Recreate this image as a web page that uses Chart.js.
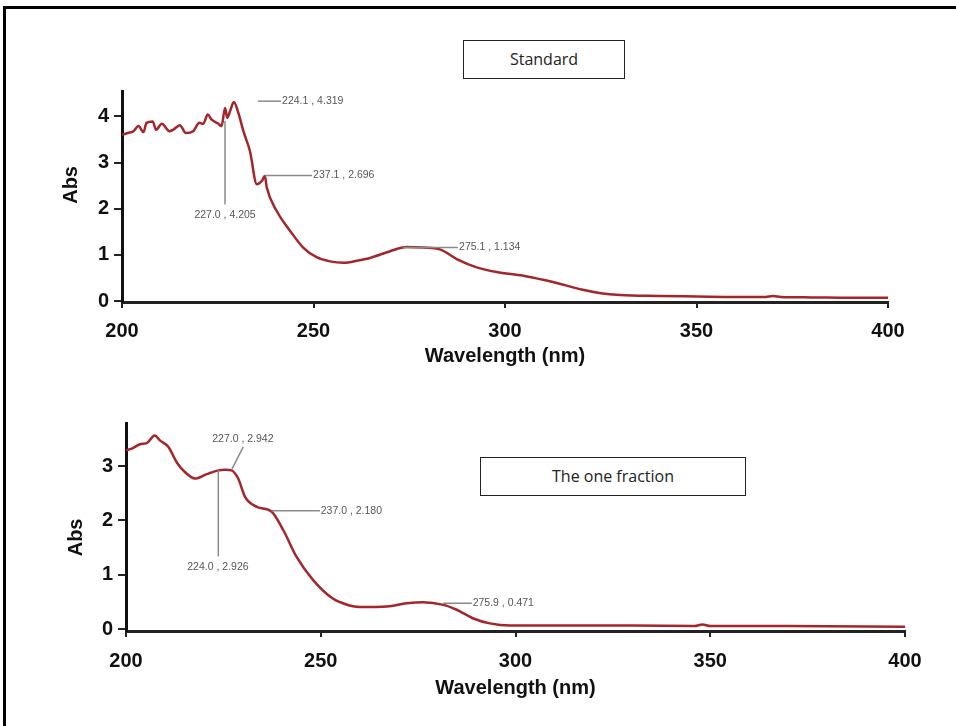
<!DOCTYPE html>
<html>
<head>
<meta charset="utf-8">
<script src="https://cdn.jsdelivr.net/npm/chart.js@4.4.1/dist/chart.umd.min.js"></script>
<style>
  html, body { margin: 0; background: #fff; width: 956px; height: 726px; overflow: hidden; }
  body { position: relative; }
  .frame { position: absolute; left: 3px; top: 6px; width: 960px; height: 730px; border-left: 3px solid #000; border-top: 3px solid #000; box-sizing: border-box; }
  .plot { position: absolute; left: 0; width: 956px; }
  .tag { position: absolute; border: 1.5px solid #222; background: #fff; font-family: "Open Sans", sans-serif; font-size: 16px; color: #222; text-align: center; box-sizing: border-box; z-index: 2; }
</style>
</head>
<body>
<div class="frame"></div>
<div class="plot" style="top:0;height:368px"><canvas id="std-chart"></canvas></div>
<div class="plot" style="top:370px;height:330px"><canvas id="frac-chart"></canvas></div>
<div class="tag" style="left:463px;top:40px;width:162px;height:39px;line-height:36px">Standard</div>
<div class="tag" style="left:480px;top:457px;width:266px;height:39px;line-height:36px">The one fraction</div>

<script>
// axis ticks
const wlTicks = [200, 250, 300, 350, 400];
const stdAbsTicks = [0, 1, 2, 3, 4];
const fracAbsTicks = [0, 1, 2, 3];

// standard spectrum
const stdWl = [200, 201.5, 203, 204.3, 205.6, 206.4, 208, 208.9, 210.4, 212.4, 213.5, 215.1, 216.7, 218.6, 220.2, 221.2, 222.4, 223.4, 225, 226, 226.9, 227.5, 228.2, 229.2, 230.4, 231.7, 233.4, 235.2, 236.5, 237.3, 237.8, 240.4, 243.9, 247.3, 250.8, 254.3, 257.8, 261.7, 265, 270, 274.3, 278.7, 283, 287.4, 292.6, 297.8, 304.8, 310, 315, 320, 325, 330, 340, 350, 360, 368, 370, 372, 380, 390, 400];
const stdAbs = [3.60, 3.64, 3.68, 3.79, 3.66, 3.86, 3.89, 3.71, 3.84, 3.68, 3.72, 3.81, 3.64, 3.68, 3.86, 3.84, 4.04, 3.93, 3.85, 3.79, 4.18, 3.97, 4.11, 4.31, 4.07, 3.68, 3.25, 2.53, 2.60, 2.71, 2.46, 1.95, 1.52, 1.16, 0.95, 0.86, 0.83, 0.88, 0.94, 1.08, 1.17, 1.16, 1.12, 0.91, 0.73, 0.63, 0.55, 0.46, 0.36, 0.25, 0.17, 0.13, 0.11, 0.10, 0.09, 0.09, 0.11, 0.09, 0.08, 0.07, 0.07];

// fraction spectrum
const fracWl = [200, 201.5, 203.6, 205.3, 207.4, 208.7, 210.9, 213, 215.1, 217.7, 220.7, 223.7, 225.5, 227.1, 228.8, 230.6, 233.6, 237.4, 240.4, 243.8, 248, 253, 256, 260, 267, 272.1, 276.3, 281.5, 284.9, 289.2, 293.4, 298.6, 310, 330, 346, 348, 350, 370, 400];
const fracAbs = [3.29, 3.32, 3.40, 3.42, 3.56, 3.47, 3.35, 3.07, 2.89, 2.77, 2.85, 2.92, 2.93, 2.92, 2.77, 2.43, 2.25, 2.16, 1.82, 1.33, 0.91, 0.57, 0.47, 0.41, 0.42, 0.48, 0.50, 0.45, 0.36, 0.20, 0.11, 0.07, 0.07, 0.07, 0.06, 0.09, 0.06, 0.06, 0.05];

// peak labels: text, leader line start/end (wl, abs), text anchor (wl, abs), text align
const stdPeakText = ['224.1 , 4.319', '227.0 , 4.205', '237.1 , 2.696', '275.1 , 1.134'];
const stdPeakLine = [[235.5, 4.33, 241.5, 4.33], [226.9, 3.90, 226.9, 2.09], [237.3, 2.72, 249.6, 2.72], [273.4, 1.16, 287.7, 1.16]];
const stdPeakPos = [[241.8, 4.33, 'left'], [226.9, 1.87, 'center'], [249.9, 2.72, 'left'], [288.0, 1.16, 'left']];

const fracPeakText = ['227.0 , 2.942', '224.0 , 2.926', '237.0 , 2.180', '275.9 , 0.471'];
const fracPeakLine = [[227.1, 2.93, 230.1, 3.35], [223.7, 2.93, 223.7, 1.34], [237.4, 2.18, 249.8, 2.18], [281.4, 0.48, 288.8, 0.48]];
const fracPeakPos = [[230.0, 3.50, 'center'], [223.6, 1.15, 'center'], [250.0, 2.18, 'left'], [289.0, 0.48, 'left']];

const axisFont = { family: '"Liberation Sans", Arial, sans-serif', size: 20, weight: 'bold' };

// draws the peak call-outs and the rotated "Abs" axis title
const peakLabels = {
    id: 'peakLabels',
    afterDatasetsDraw(chart, args, opts) {
        const ctx = chart.ctx;
        const xs = chart.scales.x;
        const ys = chart.scales.y;
        ctx.save();
        ctx.strokeStyle = '#8a8a8a';
        ctx.lineWidth = 1.5;
        ctx.fillStyle = '#555';
        ctx.font = '10.5px "Liberation Sans", Arial, sans-serif';
        ctx.textBaseline = 'middle';
        opts.text.forEach((t, i) => {
            const l = opts.lines[i];
            ctx.beginPath();
            ctx.moveTo(xs.getPixelForValue(l[0]), ys.getPixelForValue(l[1]));
            ctx.lineTo(xs.getPixelForValue(l[2]), ys.getPixelForValue(l[3]));
            ctx.stroke();
            const p = opts.pos[i];
            ctx.textAlign = p[2];
            ctx.fillText(t, xs.getPixelForValue(p[0]), ys.getPixelForValue(p[1]));
        });
        ctx.restore();

        // y axis title
        const area = chart.chartArea;
        ctx.save();
        ctx.translate(opts.absX, area.top + opts.absAt * (area.bottom - area.top));
        ctx.rotate(-Math.PI / 2);
        ctx.fillStyle = '#111';
        ctx.font = 'bold 20px "Liberation Sans", Arial, sans-serif';
        ctx.textAlign = 'center';
        ctx.textBaseline = 'middle';
        ctx.fillText('Abs', 0, 0);
        ctx.restore();
    }
};

function makeChart(id, wl, abs, cfg) {
    const points = wl.map((w, i) => ({ x: w, y: abs[i] }));
    return new Chart(document.getElementById(id), {
        type: 'line',
        data: {
            datasets: [{
                data: points,
                borderColor: '#a3262b',
                borderWidth: 2.5,
                pointRadius: 0,
                cubicInterpolationMode: 'monotone',
                fill: false
            }]
        },
        options: {
            responsive: true,
            maintainAspectRatio: false,
            animation: false,
            layout: { padding: cfg.padding },
            plugins: {
                legend: { display: false },
                tooltip: { enabled: false },
                peakLabels: { text: cfg.peakText, lines: cfg.peakLine, pos: cfg.peakPos, absX: cfg.absX, absAt: cfg.absAt }
            },
            scales: {
                x: {
                    type: 'linear',
                    min: 200,
                    max: 400,
                    afterBuildTicks: s => { s.ticks = wlTicks.map(v => ({ value: v })); },
                    afterFit: s => { s.height = cfg.xHeight; },
                    grid: { drawOnChartArea: false, drawTicks: true, tickLength: 6, color: '#222', lineWidth: 2 },
                    border: { display: true, color: '#222', width: 3 },
                    ticks: { color: '#111', font: axisFont, padding: cfg.xPad, maxRotation: 0 },
                    title: { display: true, text: 'Wavelength (nm)', color: '#111', font: axisFont, padding: 0 }
                },
                y: {
                    min: cfg.yMin,
                    max: cfg.yMax,
                    afterBuildTicks: s => { s.ticks = cfg.yTicks.map(v => ({ value: v })); },
                    afterFit: s => { s.width = cfg.yWidth; },
                    grid: { drawOnChartArea: false, drawTicks: true, tickLength: 8, color: '#222', lineWidth: 2 },
                    border: { display: true, color: '#111', width: 3 },
                    ticks: { color: '#111', font: axisFont, padding: 5 },
                    title: { display: false }
                }
            }
        },
        plugins: [peakLabels]
    });
}

makeChart('std-chart', stdWl, stdAbs, {
    padding: { left: 55, top: 91, right: 68, bottom: 0 },
    xHeight: 66, xPad: 11, yWidth: 67,
    yMin: -0.02, yMax: 4.55, yTicks: stdAbsTicks,
    absX: 71, absAt: 0.445,
    peakText: stdPeakText, peakLine: stdPeakLine, peakPos: stdPeakPos
});

makeChart('frac-chart', fracWl, fracAbs, {
    padding: { left: 60, top: 53, right: 51, bottom: 0 },
    xHeight: 69, xPad: 12, yWidth: 66,
    yMin: -0.03, yMax: 3.79, yTicks: fracAbsTicks,
    absX: 76, absAt: 0.55,
    peakText: fracPeakText, peakLine: fracPeakLine, peakPos: fracPeakPos
});
</script>
</body>
</html>
